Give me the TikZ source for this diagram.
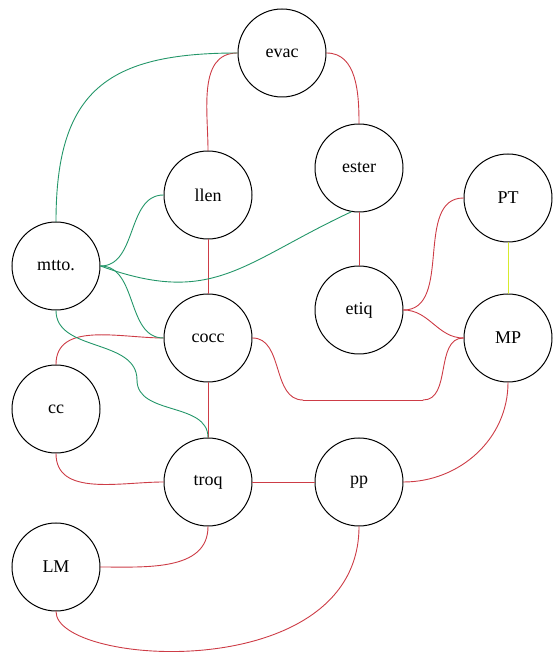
\documentclass[tikz,border=0pt]{standalone}
\usepackage{fontspec}
\setmainfont{Liberation Serif}
\usetikzlibrary{automata,positioning}

\definecolor{linkred}{RGB}{205,60,70}
\definecolor{linkgreen}{RGB}{35,150,105}
\definecolor{linkyellow}{RGB}{215,235,45}

\begin{document}
\begin{tikzpicture}[on grid,
    every state/.style={draw,line width=1pt,minimum size=88pt,inner sep=0pt,
                        font=\fontsize{18}{20}\selectfont},
    every edge/.append style={line width=0.9pt,line cap=round}]
   \useasboundingbox (0,0) rectangle (553pt,655pt);
   \node[state] (troq) at (208pt,173pt) {troq};
   \node[state] (pp)   [right=151pt of troq] {pp};
   \node[state] (cocc) [above=144pt of troq] {cocc};
   \node[state] (llen) [above=143pt of cocc] {llen};
   \node[state] (cc)   [above left=73pt and 152pt of troq] {cc};
   \node[state] (LM)   [below left=85pt and 152pt of troq] {LM};
   \node[state] (mtto) [above left=72pt and 152pt of cocc] {mtto.};
   \node[state] (etiq) [above=172pt of pp] {etiq};
   \node[state] (ester) [above=142pt of etiq] {ester};
   \node[state] (evac) [above right=142pt and 74pt of llen] {evac};
   \node[state] (MP)   [right=300pt of cocc] {MP};
   \node[state] (PT)   [above=140pt of MP] {PT};
   % bends of the long links
   \coordinate (mtj) at (137pt,275pt);
   \coordinate (cm1) at (303pt,255pt);
   \coordinate (cm2) at (423pt,255pt);
    \path[linkred]
    (evac.west)  edge [out=180,in=90] (llen.north)
    (evac.east)  edge [out=0,in=90] (ester.north)
    (llen.south)  edge (cocc.north)
    (ester.south) edge (etiq.north)
    (cocc.south)  edge (troq.north)
    (troq.east)   edge (pp.west)
    (cocc.west)  edge [out=180,in=90] (cc.north)
    (cocc.east)  edge [out=0,in=180] (cm1)
    (cm1)        edge (cm2)
    (cm2)        edge [out=0,in=180] (MP.west)
    (etiq.east)  edge [out=0,in=180] (PT.west)
                 edge [out=0,in=180] (MP.west)
    (cc.south)   edge [out=-90,in=180] (troq.west)
    (troq.south) edge [out=-90,in=0] (LM.east)
    (pp.east)    edge [out=0,in=-90] (MP.south)
    (LM.south)   edge [out=-90,in=-90,out distance=55pt,in distance=160pt] (pp.south);
    \path[linkgreen]
    (evac.west)  edge [out=180,in=90,looseness=1.35] (mtto.north)
    (mtto.east)  edge [out=0,in=180] (llen.west)
                 edge [out=-20,in=205,looseness=1.2] (ester.260)
                 edge [out=0,in=180] (cocc.west)
    (mtto.south) edge [out=-90,in=90] (mtj)
    (mtj)        edge [out=-90,in=90] (troq.north);
    \path[linkyellow] (PT) edge (MP);
\end{tikzpicture}
\end{document}
